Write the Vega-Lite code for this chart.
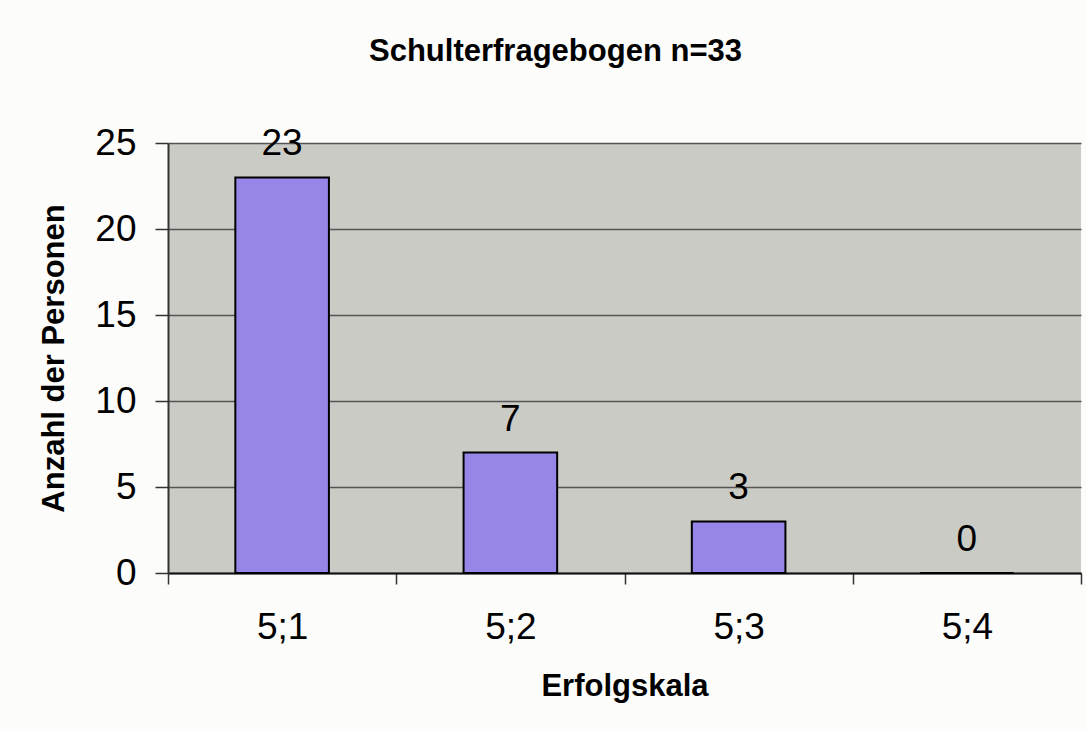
{
  "$schema": "https://vega.github.io/schema/vega-lite/v6.json",
  "autosize": {"type": "none"},
  "width": 913,
  "height": 430,
  "padding": {"left": 168, "top": 143, "right": 5, "bottom": 158},
  "background": "#FCFCFA",
  "config": {
    "font": "Liberation Sans",
    "view": {"fill": "#CACBC4", "stroke": null}
  },
  "title": {
    "text": "Schulterfragebogen n=33",
    "font": "Liberation Sans",
    "fontSize": 31,
    "fontWeight": "bold",
    "color": "#000000",
    "anchor": "middle",
    "frame": "group",
    "dx": -69,
    "offset": 56
  },
  "data": {
    "values": [
      {"kategorie": "5;1", "anzahl": 23},
      {"kategorie": "5;2", "anzahl": 7},
      {"kategorie": "5;3", "anzahl": 3},
      {"kategorie": "5;4", "anzahl": 0}
    ]
  },
  "encoding": {
    "x": {
      "field": "kategorie",
      "type": "nominal",
      "sort": null,
      "scale": {"paddingInner": 0, "paddingOuter": 0},
      "axis": {
        "title": "Erfolgskala",
        "titleFontSize": 31,
        "titleFontWeight": "bold",
        "titleColor": "#000000",
        "titlePadding": 26,
        "labelAngle": 0,
        "labelFontSize": 37,
        "labelColor": "#000000",
        "labelPadding": 25,
        "tickBand": "extent",
        "tickSize": 11,
        "tickColor": "#333333",
        "tickWidth": 1.5,
        "domainColor": "#111111",
        "domainWidth": 2,
        "grid": false
      }
    },
    "y": {
      "field": "anzahl",
      "type": "quantitative",
      "scale": {"domain": [0, 25], "nice": false},
      "axis": {
        "title": "Anzahl der Personen",
        "titleFontSize": 31,
        "titleFontWeight": "bold",
        "titleColor": "#000000",
        "titlePadding": 24,
        "values": [0, 5, 10, 15, 20, 25],
        "labelFontSize": 37,
        "labelColor": "#000000",
        "labelPadding": 19,
        "tickSize": 13,
        "tickColor": "#333333",
        "tickWidth": 1.5,
        "domainColor": "#333333",
        "domainWidth": 2,
        "grid": true,
        "gridColor": "#555555",
        "gridWidth": 1.5
      }
    }
  },
  "layer": [
    {
      "mark": {
        "type": "bar",
        "width": {"band": 0.41},
        "color": "#9785E7",
        "stroke": "#000000",
        "strokeWidth": 2
      }
    },
    {
      "mark": {
        "type": "text",
        "fontSize": 37,
        "color": "#000000",
        "baseline": "alphabetic",
        "dy": -22
      },
      "encoding": {
        "text": {"field": "anzahl", "type": "quantitative"}
      }
    }
  ]
}
